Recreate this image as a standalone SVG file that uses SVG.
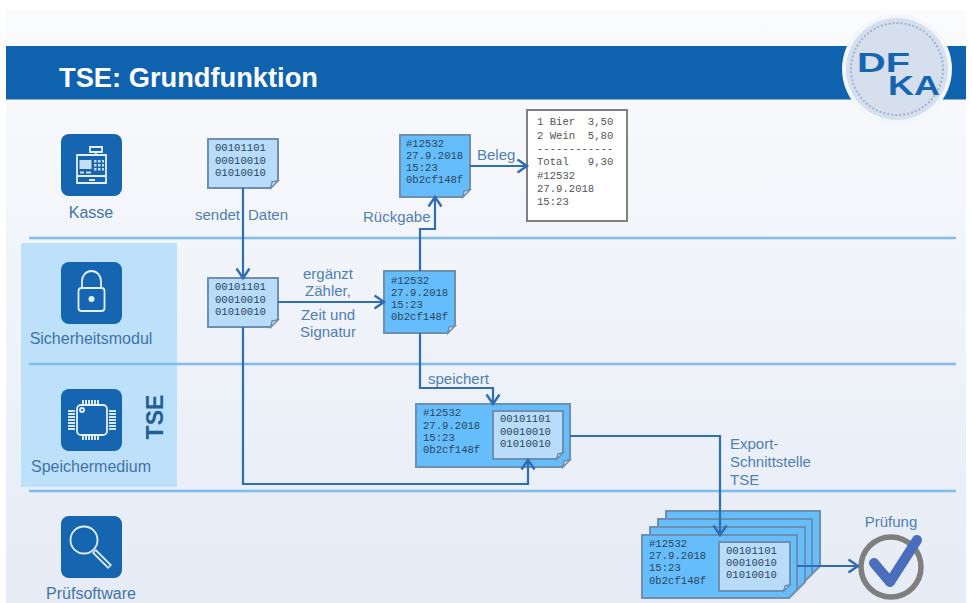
<svg xmlns="http://www.w3.org/2000/svg" width="972" height="603" viewBox="0 0 972 603">
<style>
text{white-space:pre}
.lbl{font-family:"Liberation Sans",Arial,sans-serif;font-size:15px;fill:#4f7fb5}
.side{font-family:"Liberation Sans",Arial,sans-serif;font-size:16px;fill:#3f74a8;text-anchor:middle}
.mono{font-family:"Liberation Mono","Courier New",monospace;font-size:10.6px;fill:#2b4560}
.rcpt{fill:#555}
.light{fill:#b9dcfb;stroke:#6f8fae;stroke-width:2}
.dark{fill:#66bdfb;stroke:#6f8fae;stroke-width:2}
.fold{fill:#dfe6ee;stroke:#6f8fae;stroke-width:1.5}
.rule{stroke:#7fbdec;stroke-width:2.5;fill:none}
.tile{fill:#1565b0}
.ico{fill:none;stroke:#e3effa;stroke-width:1.8}
.con{fill:none;stroke:#2f6db5;stroke-width:2.2}
.logo{font-family:"Liberation Sans",Arial,sans-serif;font-size:27px;font-weight:700;fill:#1565b0}
</style>
<defs>
<linearGradient id="bg" x1="0" y1="0" x2="0" y2="1"><stop offset="0" stop-color="#fafbfd"/><stop offset="1" stop-color="#e6ebf5"/></linearGradient>
<marker id="arr" markerWidth="14" markerHeight="16" refX="11" refY="8" orient="auto" markerUnits="userSpaceOnUse"><path d="M1.500 1.500L11 8L1.500 14.500" fill="none" stroke="#2f6db5" stroke-width="2.400"/></marker>
</defs>
<rect width="972" height="603" fill="#fff"/>
<rect x="6" y="10" width="960" height="593" fill="url(#bg)"/>
<rect x="21" y="243" width="156" height="244" fill="#bde0fb"/>
<rect x="6" y="46" width="960" height="53.500" fill="#0f62ae"/>
<text x="59" y="87" font-family="'Liberation Sans',Arial,sans-serif" font-size="27" font-weight="700" fill="#fff" textLength="259" lengthAdjust="spacingAndGlyphs">TSE: Grundfunktion</text>
<path class="rule" d="M29 238H956M29 364H956M29 491H956"/>
<g id="logo">
<circle cx="897" cy="69" r="55" fill="#f3f6fa"/>
<circle cx="897" cy="69" r="51" fill="#d5dfee"/>
<circle cx="897" cy="69" r="46" fill="none" stroke="#9db4d2" stroke-width="2" stroke-dasharray="2 2"/>
<text class="logo" x="857" y="72" textLength="53" lengthAdjust="spacingAndGlyphs">DF</text>
<text class="logo" x="888" y="95" textLength="52" lengthAdjust="spacingAndGlyphs">KA</text>
</g>
<text x="163" y="417" transform="rotate(-90 163 417)" text-anchor="middle" font-family="'Liberation Sans',Arial,sans-serif" font-size="23" font-weight="700" fill="#1f5f95">TSE</text>
<g id="kasse">
<rect class="tile" x="61" y="134" width="61" height="62" rx="8"/>
<path class="ico" d="M77 155H106V183H77ZM77 176H106M90 147H102V152H90ZM96 152V155M89 180H95"/>
<rect x="79.500" y="160" width="12" height="9" fill="#c9def2"/>
<path d="M94 160h2.500v2.500h-2.500zM98 160h2.500v2.500h-2.500zM102 160h2v2.500h-2zM94 164h2.500v2.500h-2.500zM98 164h2.500v2.500h-2.500zM102 164h2v2.500h-2zM94 168h2.500v2.500h-2.500zM98 168h2.500v2.500h-2.500zM102 168h2v2.500h-2z" fill="#c9def2"/>
<path d="M80 172.500h4M86 172.500h5" stroke="#c9def2" stroke-width="2"/>
<text class="side" x="91" y="218">Kasse</text>
</g>
<g id="sicherheitsmodul">
<rect class="tile" x="61" y="262" width="61" height="62" rx="8"/>
<path class="ico" d="M82 288V281a9.500 10 0 0 1 19 0V288" stroke-width="2"/>
<rect class="ico" x="78.500" y="288" width="26" height="23" rx="3" stroke-width="2"/>
<circle cx="91.500" cy="299" r="3" fill="#e3effa"/>
<text class="side" x="91" y="344">Sicherheitsmodul</text>
</g>
<g id="speichermedium">
<rect class="tile" x="61" y="389" width="61" height="62" rx="8"/>
<rect class="ico" x="77" y="405" width="30" height="30" rx="4"/>
<circle cx="82" cy="410" r="2" class="ico" stroke-width="1"/>
<path d="M83 400V404M86 400V404M89 400V404M92 400V404M95 400V404M98 400V404M83 436V440M86 436V440M89 436V440M92 436V440M95 436V440M98 436V440M68 411H75M68 414H75M68 417H75M68 420H75M68 423H75M68 426H75M68 429H75M109 411H116M109 414H116M109 417H116M109 420H116M109 423H116M109 426H116M109 429H116" stroke="#d5e6f6" stroke-width="2" fill="none"/>
<text class="side" x="91" y="472">Speichermedium</text>
</g>
<g id="pruefsoftware">
<rect class="tile" x="61" y="516" width="61" height="62" rx="8"/>
<circle class="ico" cx="84" cy="540" r="13.500" stroke-width="2"/>
<path d="M94 551L110 567" stroke="#e3effa" stroke-width="5.500" fill="none"/>
<path d="M95 552L109 566" stroke="#1565b0" stroke-width="2" fill="none"/>
<text class="side" x="91" y="599">Prüfsoftware</text>
</g>
<g id="daten-kasse">
<path class="light" d="M208 139H278V180L270 188H208Z"/>
<path class="fold" d="M278 181L271 188L272 182Z"/>
<text class="mono" x="215" y="151">00101101</text><text class="mono" x="215" y="163.500">00010010</text><text class="mono" x="215" y="175.500">01010010</text>
</g>
<g id="daten-modul">
<path class="light" d="M208 278H278V319L270 327H208Z"/>
<path class="fold" d="M278 320L271 327L272 321Z"/>
<text class="mono" x="215" y="290">00101101</text><text class="mono" x="215" y="302.500">00010010</text><text class="mono" x="215" y="314.500">01010010</text>
</g>
<g id="signiert">
<path class="dark" d="M384 271H455V325L447 333H384Z"/>
<path class="fold" d="M455 326L448 333L449 327Z"/>
<text class="mono" x="391" y="284">#12532</text><text class="mono" x="391" y="296">27.9.2018</text><text class="mono" x="391" y="308">15:23</text><text class="mono" x="391" y="320">0b2cf148f</text>
</g>
<g id="rueckgabe">
<path class="dark" d="M400 135H470V189L462 197H400Z"/>
<path class="fold" d="M470 190L463 197L464 191Z"/>
<text class="mono" x="406" y="147">#12532</text><text class="mono" x="406" y="159">27.9.2018</text><text class="mono" x="406" y="171">15:23</text><text class="mono" x="406" y="183">0b2cf148f</text>
</g>
<g id="beleg">
<rect x="527" y="110" width="100" height="111" fill="#fff" stroke="#808080" stroke-width="2"/>
<text class="mono rcpt" x="537" y="125">1 Bier  3,50</text>
<text class="mono rcpt" x="537" y="138.500">2 Wein  5,80</text>
<text class="mono rcpt" x="537" y="152">------------</text>
<text class="mono rcpt" x="537" y="165">Total   9,30</text>
<text class="mono rcpt" x="537" y="178.500">#12532</text>
<text class="mono rcpt" x="537" y="192">27.9.2018</text>
<text class="mono rcpt" x="537" y="205">15:23</text>
</g>
<g id="speicher">
<path class="dark" d="M416 404H570V459L562 467H416Z"/>
<path class="fold" d="M570 460L563 467L564 461Z"/>
<text class="mono" x="423" y="416">#12532</text><text class="mono" x="423" y="428.500">27.9.2018</text><text class="mono" x="423" y="441">15:23</text><text class="mono" x="423" y="453">0b2cf148f</text>
<path class="light" d="M493 411H563V452L556 459H493Z"/>
<path class="fold" d="M563 453L557 459L558 454Z"/>
<text class="mono" x="500" y="422">00101101</text><text class="mono" x="500" y="434.500">00010010</text><text class="mono" x="500" y="447">01010010</text>
</g>
<g id="export">
<path class="dark" d="M666 511H820V566L812 574H666Z"/>
<path class="dark" d="M658 519H812V574L804 582H658Z"/>
<path class="dark" d="M650 527H805V582L797 590H650Z"/>
<path class="dark" d="M642 535H797V590L789 598H642Z"/>
<text class="mono" x="649" y="547">#12532</text><text class="mono" x="649" y="559">27.9.2018</text><text class="mono" x="649" y="571">15:23</text><text class="mono" x="649" y="584">0b2cf148f</text>
<path class="light" d="M719 542H790V584L783 591H719Z"/>
<path class="fold" d="M790 585L784 591L785 586Z"/>
<text class="mono" x="726" y="554">00101101</text><text class="mono" x="726" y="566">00010010</text><text class="mono" x="726" y="578">01010010</text>
</g>
<g id="pruefung">
<circle cx="891" cy="567" r="30" fill="none" stroke="#7f7f7f" stroke-width="5.500"/>
<path d="M874 563L890 582L917 540" fill="none" stroke="#4a6ebd" stroke-width="10" stroke-linecap="round" stroke-linejoin="round"/>
<text x="891" y="527" text-anchor="middle" class="lbl">Prüfung</text>
</g>
<g id="connectors">
<path class="con" d="M243 188V278" marker-end="url(#arr)"/>
<path class="con" d="M278 302H384" marker-end="url(#arr)"/>
<path class="con" d="M420 271V229H435V197" marker-end="url(#arr)"/>
<path class="con" d="M470 166H527" marker-end="url(#arr)"/>
<path class="con" d="M420 333V388H493V404" marker-end="url(#arr)"/>
<path class="con" d="M243 327V484H528V460" marker-end="url(#arr)"/>
<path class="con" d="M570 436H720V535" marker-end="url(#arr)"/>
<path class="con" d="M797 566H858" marker-end="url(#arr)"/>
</g>
<g id="labels">
<text class="lbl" x="195" y="220">sendet</text><text class="lbl" x="248" y="220">Daten</text>
<text class="lbl" x="328" y="279" text-anchor="middle">ergänzt</text>
<text class="lbl" x="328" y="296" text-anchor="middle">Zähler,</text>
<text class="lbl" x="328" y="320" text-anchor="middle">Zeit und</text>
<text class="lbl" x="328" y="337" text-anchor="middle">Signatur</text>
<text class="lbl" x="363" y="222">Rückgabe</text>
<text class="lbl" x="477" y="160">Beleg</text>
<text class="lbl" x="428" y="384">speichert</text>
<text class="lbl" x="730" y="449">Export-</text>
<text class="lbl" x="730" y="467">Schnittstelle</text>
<text class="lbl" x="730" y="485">TSE</text>
</g>
</svg>
